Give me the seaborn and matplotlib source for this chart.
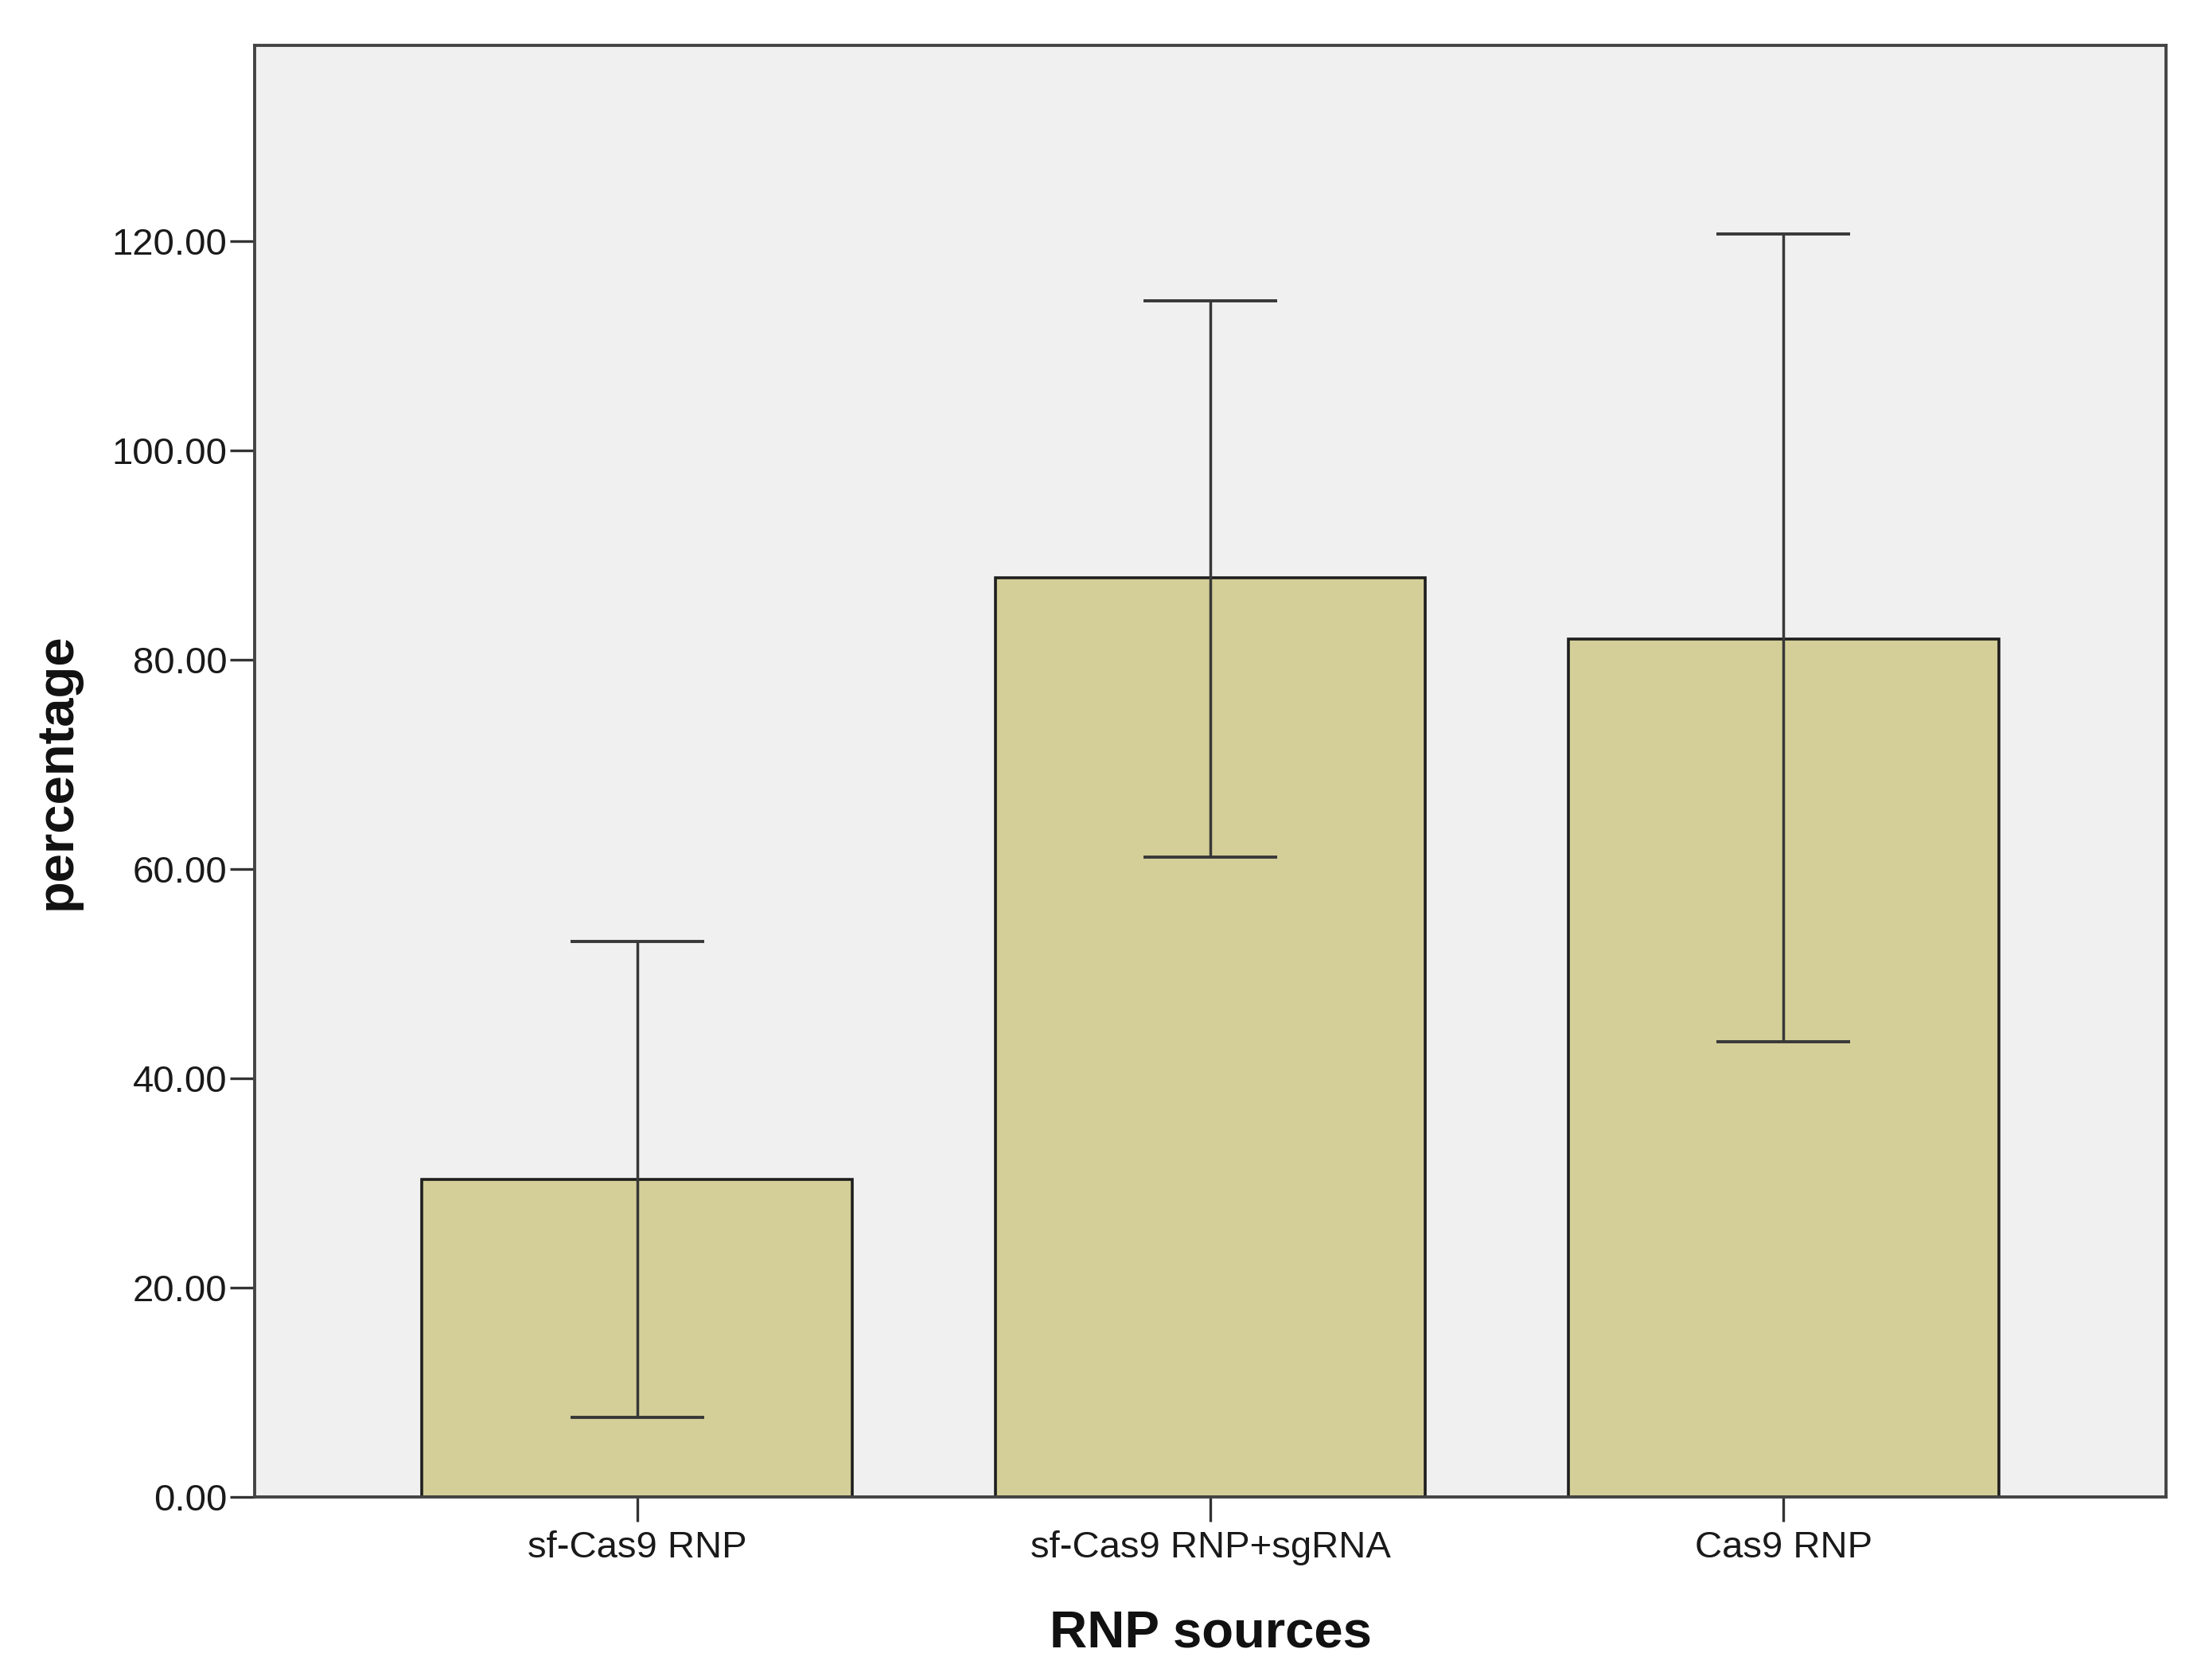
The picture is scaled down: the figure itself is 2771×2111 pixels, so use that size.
import pandas as pd
import matplotlib
matplotlib.use('Agg')
import matplotlib.pyplot as plt
import seaborn as sns

# values
sources = ['sf-Cas9 RNP', 'sf-Cas9 RNP+sgRNA', 'Cas9 RNP']
mean_pct = [30.3, 87.8, 82.0]
upper_pct = [53.1, 114.3, 120.7]
lower_pct = [7.6, 61.1, 43.5]
y_ticks = [0, 20, 40, 60, 80, 100, 120]

df = pd.DataFrame({'source': sources, 'pct': mean_pct})

sns.set_style('white')
plt.rcParams['font.family'] = ['Liberation Sans', 'DejaVu Sans']

fig = plt.figure(figsize=(27.71, 21.11), dpi=100)
ax = fig.add_axes([0.1155, 0.109, 0.9823 - 0.1155, 0.973 - 0.109])
ax.set_facecolor('#f0f0f0')

sns.barplot(data=df, x='source', y='pct', color='#d4cf98', saturation=1,
            edgecolor='#1e1e1e', linewidth=2.6, width=0.75, errorbar=None, ax=ax)

# error bars (asymmetric limits as drawn)
yerr = [[m - lo for m, lo in zip(mean_pct, lower_pct)],
        [hi - m for m, hi in zip(mean_pct, upper_pct)]]
ax.errorbar(range(len(sources)), mean_pct, yerr=yerr, fmt='none',
            ecolor='#383838', elinewidth=2.5, capsize=60.8, capthick=2.8, zorder=5)

ax.set_xlim(-0.667, 2.667)
ax.set_ylim(0, 138.7)
ax.set_yticks(y_ticks)
ax.set_yticklabels([f'{v:.2f}' for v in y_ticks])

for side in ['top', 'bottom', 'left', 'right']:
    ax.spines[side].set_visible(True)
    ax.spines[side].set_color('#444444')
    ax.spines[side].set_linewidth(2.8)

ax.tick_params(axis='both', direction='out', length=22, width=2.4, color='#333333',
               labelsize=34, labelcolor='#1a1a1a')
ax.tick_params(axis='x', pad=8)
ax.tick_params(axis='y', pad=3)
ax.tick_params(left=True, bottom=True)

ax.set_xlabel('RNP sources', fontsize=47, fontweight='bold', labelpad=40, color='#111111')
ax.set_ylabel('percentage', fontsize=47, fontweight='bold', labelpad=28, color='#111111')

fig.savefig('out.png', dpi=100, facecolor='white')
